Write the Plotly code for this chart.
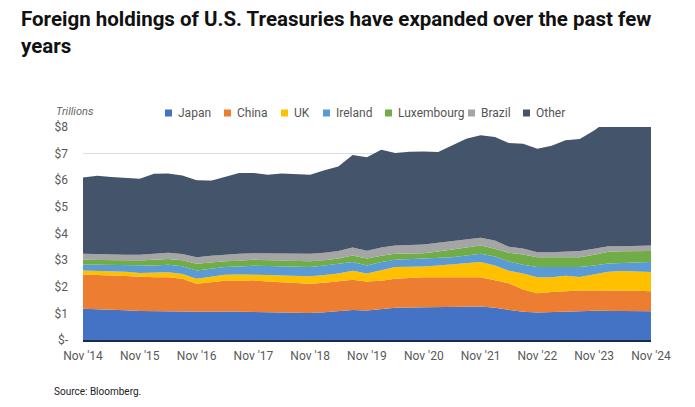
import pandas as pd
import plotly.graph_objects as go

# Quarterly observations, Nov 2014 .. Nov 2024 (trillions of USD)
dates = pd.date_range("2014-11-01", periods=41, freq="3MS")

japan = [1.17, 1.16, 1.14, 1.12, 1.09, 1.08, 1.08, 1.07, 1.05, 1.06, 1.07, 1.06, 1.04, 1.03,
         1.02, 1.02, 1.01, 1.04, 1.08, 1.13, 1.11, 1.16, 1.21, 1.22, 1.23, 1.25, 1.26, 1.26,
         1.26, 1.21, 1.13, 1.06, 1.03, 1.04, 1.06, 1.08, 1.10, 1.10, 1.10, 1.09, 1.08]
china = [1.29, 1.29, 1.28, 1.28, 1.28, 1.28, 1.28, 1.23, 1.06, 1.12, 1.16, 1.17, 1.20, 1.17,
         1.15, 1.12, 1.10, 1.11, 1.12, 1.13, 1.09, 1.07, 1.09, 1.11, 1.13, 1.11, 1.10, 1.10,
         1.10, 1.03, 1.00, 0.84, 0.73, 0.76, 0.77, 0.78, 0.76, 0.76, 0.76, 0.76, 0.75]
uk = [0.15, 0.15, 0.17, 0.16, 0.15, 0.16, 0.18, 0.18, 0.19, 0.20, 0.22, 0.23, 0.22, 0.24,
      0.25, 0.26, 0.28, 0.29, 0.30, 0.34, 0.30, 0.39, 0.44, 0.42, 0.40, 0.44, 0.48, 0.52,
      0.57, 0.56, 0.47, 0.60, 0.60, 0.56, 0.58, 0.51, 0.60, 0.70, 0.73, 0.72, 0.72]
ireland = [0.23, 0.23, 0.22, 0.24, 0.27, 0.28, 0.29, 0.29, 0.31, 0.30, 0.29, 0.30, 0.33, 0.34,
           0.34, 0.35, 0.35, 0.36, 0.37, 0.33, 0.30, 0.31, 0.27, 0.28, 0.29, 0.28, 0.27, 0.29,
           0.31, 0.34, 0.35, 0.33, 0.38, 0.38, 0.34, 0.37, 0.34, 0.31, 0.30, 0.34, 0.38]
luxembourg = [0.17, 0.17, 0.18, 0.19, 0.20, 0.21, 0.21, 0.23, 0.25, 0.23, 0.22, 0.22, 0.22, 0.22,
              0.23, 0.23, 0.22, 0.20, 0.19, 0.24, 0.26, 0.23, 0.23, 0.22, 0.21, 0.24, 0.28, 0.30,
              0.31, 0.29, 0.33, 0.38, 0.37, 0.37, 0.36, 0.37, 0.40, 0.44, 0.44, 0.43, 0.41]
brazil = [0.23, 0.22, 0.21, 0.21, 0.21, 0.22, 0.24, 0.23, 0.25, 0.25, 0.25, 0.26, 0.25, 0.26,
          0.27, 0.27, 0.28, 0.28, 0.28, 0.30, 0.29, 0.31, 0.31, 0.32, 0.33, 0.33, 0.32, 0.31,
          0.29, 0.31, 0.22, 0.23, 0.19, 0.19, 0.21, 0.23, 0.23, 0.21, 0.19, 0.20, 0.21]
other = [2.86, 2.95, 2.92, 2.90, 2.86, 3.01, 2.97, 2.95, 2.89, 2.82, 2.91, 3.03, 3.01, 2.95,
         2.99, 2.98, 2.97, 3.10, 3.18, 3.48, 3.51, 3.68, 3.47, 3.50, 3.49, 3.41, 3.59, 3.78,
         3.85, 3.88, 3.90, 3.93, 3.88, 4.00, 4.18, 4.21, 4.44, 4.73, 4.88, 4.96, 5.05]

series_names = ["Japan", "China", "UK", "Ireland", "Luxembourg", "Brazil", "Other"]
series_values = [japan, china, uk, ireland, luxembourg, brazil, other]
colors = ["#4472C4", "#ED7D31", "#FFC000", "#5B9BD5", "#70AD47", "#A5A5A5", "#44546A"]

tick_dates = pd.date_range("2014-11-01", periods=11, freq="12MS")
tick_labels = ["Nov '14", "Nov '15", "Nov '16", "Nov '17", "Nov '18", "Nov '19",
               "Nov '20", "Nov '21", "Nov '22", "Nov '23", "Nov '24"]
y_ticks = [0, 1, 2, 3, 4, 5, 6, 7, 8]
y_labels = ["$-", "$1", "$2", "$3", "$4", "$5", "$6", "$7", "$8"]

W, H = 695, 407
ML, MR, MT, MB = 83, 44, 127, 67
PW, PH = W - ML - MR, H - MT - MB


def px(x):
    return (x - ML) / PW


def py(y):
    return (H - MB - y) / PH


fig = go.Figure()
for name, vals, col in zip(series_names, series_values, colors):
    fig.add_trace(go.Scatter(
        x=dates, y=vals, name=name, stackgroup="one", mode="lines",
        line=dict(width=0, color=col), fillcolor=col, showlegend=False,
        hovertemplate=name + ": $%{y:.2f}T<extra></extra>",
    ))

# custom legend (swatch + label)
legend_left = [165, 224, 281, 323, 385, 468, 523]
legend_y = 113
shapes = []
annotations = []
for name, col, xl in zip(series_names, colors, legend_left):
    shapes.append(dict(type="rect", xref="paper", yref="paper",
                       xsizemode="pixel", ysizemode="pixel",
                       xanchor=px(xl), yanchor=py(legend_y),
                       x0=0, x1=7, y0=-3.5, y1=3.5,
                       fillcolor=col, line=dict(width=0)))
    annotations.append(dict(text=name, xref="paper", yref="paper",
                            x=px(xl + 11), y=py(legend_y), xanchor="left", yanchor="middle",
                            showarrow=False, font=dict(family="Roboto", size=12, color="#555555")))

annotations.append(dict(text="<i>Trillions</i>", xref="paper", yref="paper",
                        x=px(54), y=py(111), xanchor="left", yanchor="middle", showarrow=False,
                        font=dict(family="Roboto", size=11, color="#666666")))
annotations.append(dict(text="Source: Bloomberg.", xref="paper", yref="paper",
                        x=px(52), y=py(391), xanchor="left", yanchor="middle", showarrow=False,
                        font=dict(family="Roboto", size=10, color="#222222")))
annotations.append(dict(text="<b>Foreign holdings of U.S. Treasuries have expanded over the past few<br>years</b>",
                        xref="paper", yref="paper", x=px(19), y=py(5),
                        xanchor="left", yanchor="top", align="left", showarrow=False,
                        font=dict(family="Roboto", size=20.5, color="#111111")))

fig.update_layout(
    width=W, height=H, autosize=False,
    margin=dict(l=ML, r=MR, t=MT, b=MB),
    paper_bgcolor="white", plot_bgcolor="white",
    shapes=shapes, annotations=annotations,
    showlegend=False,
    xaxis=dict(type="date", range=[dates[0], dates[-1]], tickvals=tick_dates, ticktext=tick_labels,
               showgrid=False, showline=True, linecolor="#1B2A47", linewidth=2,
               ticks="", ticklabelstandoff=4,
               tickfont=dict(family="Roboto", size=12, color="#595959")),
    yaxis=dict(range=[0, 8], tickvals=y_ticks, ticktext=y_labels, showgrid=True,
               gridcolor="#DDDDDD", gridwidth=1, zeroline=False, showline=False,
               ticks="", ticklabelstandoff=14,
               tickfont=dict(family="Roboto", size=12, color="#595959")),
)

fig.write_html("out.html")
